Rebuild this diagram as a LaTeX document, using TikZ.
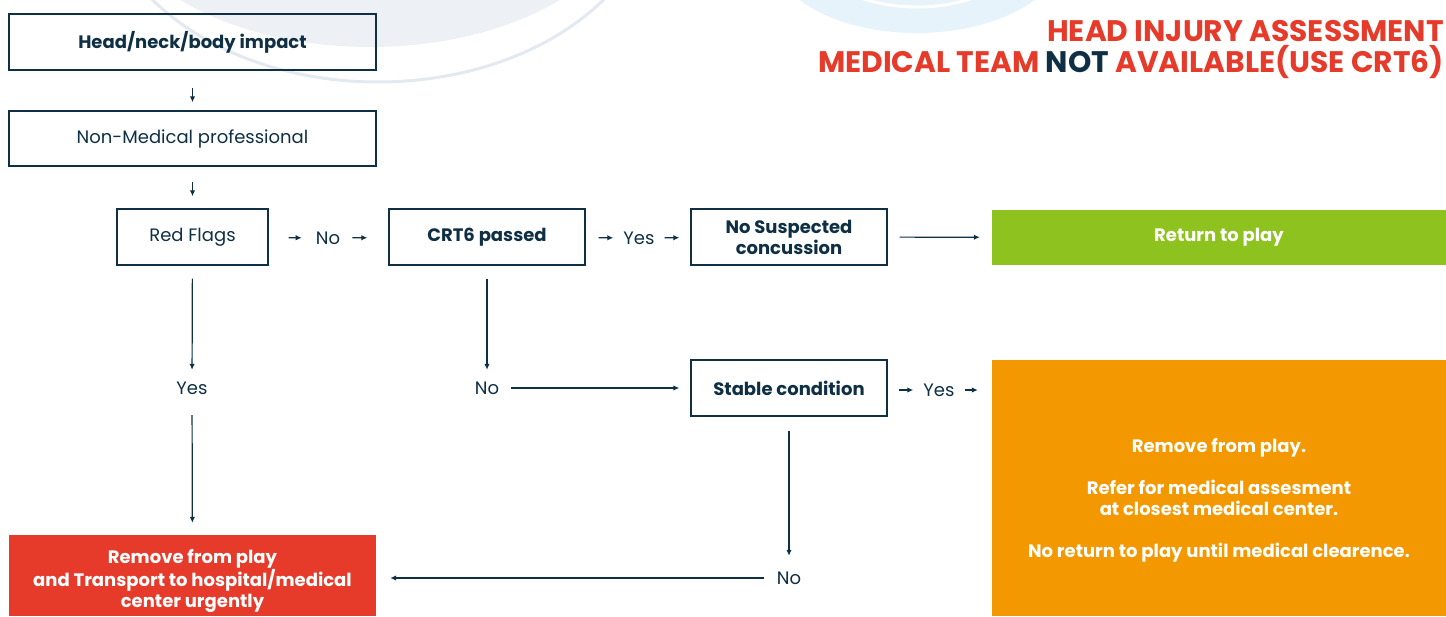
\documentclass[tikz,border=0pt]{standalone}
\usepackage{fontspec}
\setmainfont{Poppins}
\usetikzlibrary{arrows.meta,positioning}
\definecolor{navy}{HTML}{0E2F44}
\definecolor{hiared}{HTML}{E63B2A}
\definecolor{hiagreen}{HTML}{8DC21F}
\definecolor{hiaorange}{HTML}{F39800}
\definecolor{decofill}{HTML}{EDF1F6}
\definecolor{decoline}{HTML}{E2E9F0}
\definecolor{decoblue}{HTML}{E6F3FA}

\begin{document}
\begin{tikzpicture}[x=1pt,y=-1pt,
        every node/.style={text=navy,align=center,font=\fontsize{18}{21}\selectfont},
        box/.style={draw=navy,line width=1.4pt,minimum height=56pt,inner sep=0},
        boldbox/.style={box,font=\fontsize{18}{21}\selectfont\bfseries},
        colbox/.style={inner sep=0,text=white,font=\fontsize{18}{21}\selectfont\bfseries},
        lbl/.style={inner sep=0,minimum height=20pt},
        conn/.style={draw=navy,line width=1.2pt,-{Latex[length=6pt,width=5.5pt]}},
        ]
\useasboundingbox (0,0) rectangle (1446,616);

% background swirls
\begin{scope}
  \clip (0,0) rectangle (1446,616);
  \fill[decofill] (370,-103) ellipse [x radius=261,y radius=150];
  \draw[decoline,line width=3pt] (378,-118) ellipse [x radius=279,y radius=200];
  \fill[decoblue] (917,-47) ellipse [x radius=145,y radius=80];
  \draw[white,line width=3pt] (917,-70) ellipse [x radius=120,y radius=77];
\end{scope}

% title
\node[anchor=east,align=right,inner sep=0,text=hiared,
      font=\fontsize{29.7}{31}\selectfont\bfseries] (title) at (1444,49.5)
  {HEAD INJURY ASSESSMENT\\MEDICAL TEAM {\color{navy}NOT} AVAILABLE(USE CRT6)};

% boxes
\node[boldbox,minimum width=367pt] (head) at (192.5,42) {Head/neck/body impact};
\node[box,minimum width=367pt,minimum height=55pt] (nonmed) at (192.5,138.5) {Non-Medical professional};
\node[box,minimum width=151pt] (flags) at (192.5,237) {Red Flags};
\node[boldbox,minimum width=196pt] (crt) at (487,237) {CRT6 passed};
\node[boldbox,minimum width=196pt] (nosusp) at (789,237) {No Suspected\\concussion};
\node[colbox,fill=hiagreen,minimum width=454pt,minimum height=55pt] (ret) at (1219,237.5) {Return to play};
\node[boldbox,minimum width=196pt] (stable) at (789,388) {Stable condition};
\node[colbox,fill=hiaorange,minimum width=454pt,minimum height=256pt] (refer) at (1219,488)
  {\rule{0pt}{38pt}Remove from play.\\[21pt]Refer for medical assesment\\at closest medical center.\\[21pt]No return to play until medical clearence.};
\node[colbox,fill=hiared,minimum width=367pt,minimum height=81pt,font=\fontsize{18}{21.5}\selectfont\bfseries] (urgent) at (192.5,575.5)
  {\rule{0pt}{25pt}Remove from play\\and Transport to hospital/medical\\center urgently};

% labels
\node[lbl] (noA) at (328,238) {No};
\node[lbl] (yesB) at (639,238) {Yes};
\node[lbl] (yesA) at (192,388) {Yes};
\node[lbl] (noB) at (487,388) {No};
\node[lbl] (yesC) at (939,390) {Yes};
\node[lbl] (noC) at (789,578) {No};

% connectors
\draw[conn,shorten <=17pt,shorten >=8pt] (head) -- (nonmed);
\draw[conn,shorten <=15pt,shorten >=12pt] (nonmed) -- (flags);
\draw[conn,shorten <=20pt,shorten >=14pt] (flags) -- (noA);
\draw[conn,shorten <=12pt,shorten >=21pt] (noA) -- (crt);
\draw[conn,shorten <=13pt,shorten >=10pt] (crt) -- (yesB);
\draw[conn,shorten <=10pt,shorten >=11pt] (yesB) -- (nosusp);
\draw[conn,shorten <=12pt,shorten >=12pt] (nosusp) -- (ret);
\draw[conn,shorten <=13pt,shorten >=8pt] (flags) -- (yesA);
\draw[conn,shorten <=17pt,shorten >=12pt] (yesA) -- (urgent);
\draw[conn,shorten <=13pt,shorten >=8pt] (crt) -- (noB);
\draw[conn,shorten <=12pt,shorten >=11pt] (noB) -- (stable);
\draw[conn,shorten <=11pt,shorten >=10pt] (stable.east |- yesC) -- (yesC);
\draw[conn,shorten <=10pt,shorten >=14pt] (yesC) -- (yesC -| refer.west);
\draw[conn,shorten <=14pt,shorten >=12pt] (stable) -- (noC);
\draw[conn,shorten <=13pt,shorten >=14pt] (noC) -- (noC -| urgent.east);
\end{tikzpicture}
\end{document}
